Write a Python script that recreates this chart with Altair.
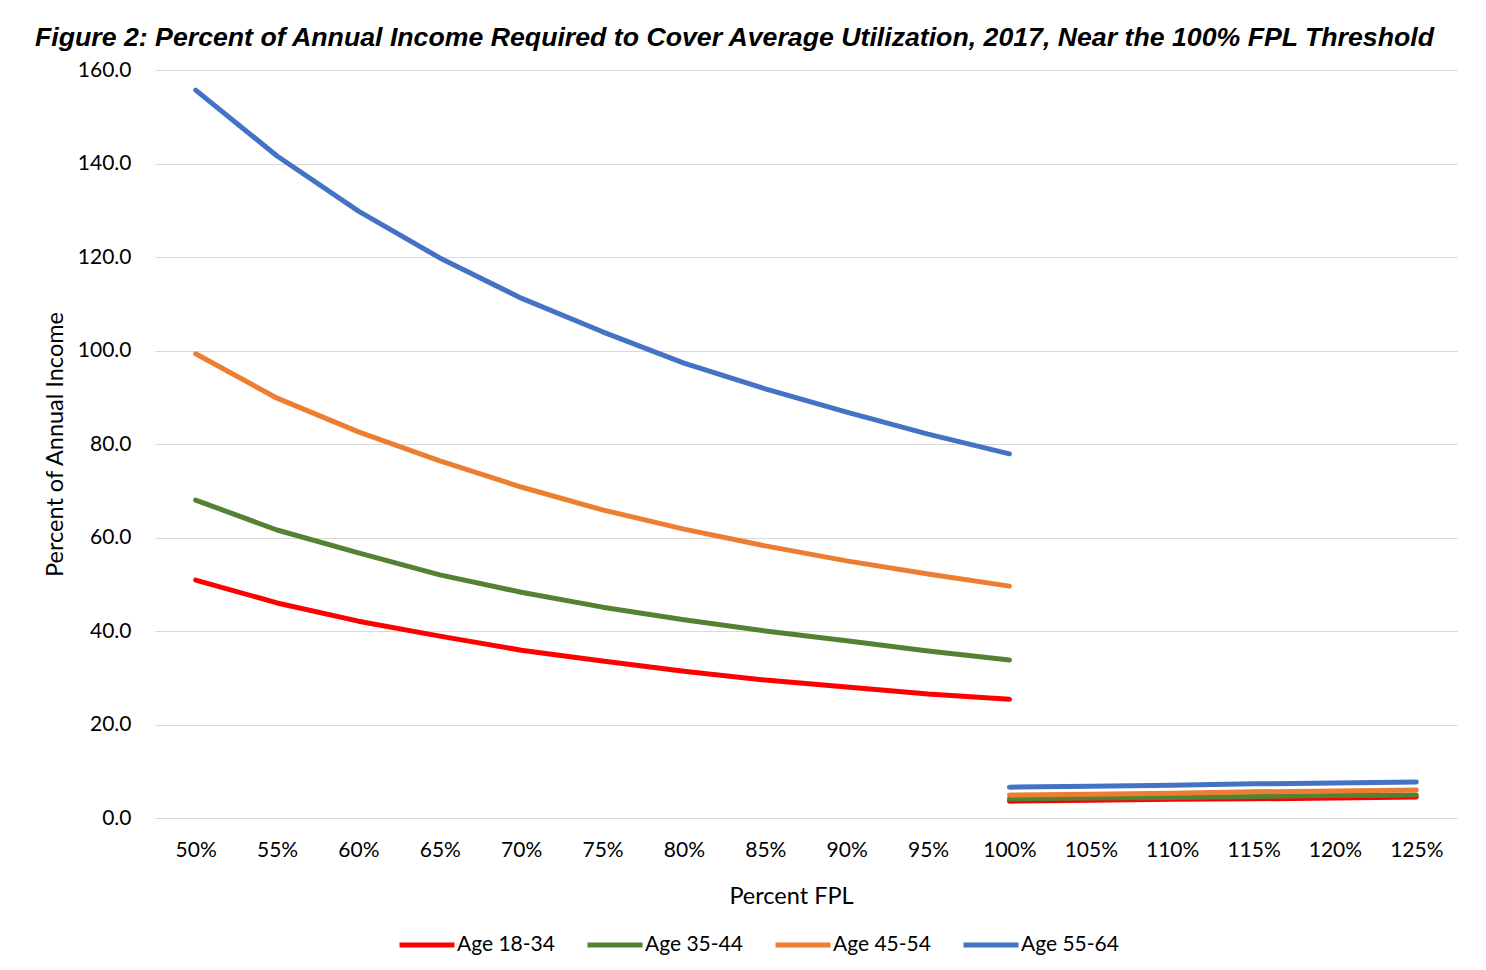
import altair as alt
import pandas as pd

fpl_labels = ["50%", "55%", "60%", "65%", "70%", "75%", "80%", "85%",
              "90%", "95%", "100%", "105%", "110%", "115%", "120%", "125%"]
series_names = ["Age 18-34", "Age 35-44", "Age 45-54", "Age 55-64"]
series_colors = ["#FF0000", "#548235", "#ED7D31", "#4472C4"]

# Segment below the threshold: 50% .. 100%
below_labels = fpl_labels[:11]
below_18_34 = [50.9, 46.0, 42.1, 38.9, 35.9, 33.6, 31.4, 29.5, 28.0, 26.5, 25.4]
below_35_44 = [68.0, 61.6, 56.7, 52.0, 48.3, 45.1, 42.4, 40.0, 37.9, 35.7, 33.8]
below_45_54 = [99.3, 89.8, 82.6, 76.4, 70.8, 65.9, 61.8, 58.2, 55.0, 52.2, 49.6]
below_55_64 = [155.7, 141.6, 129.8, 119.8, 111.2, 104.0, 97.3, 91.8, 86.8, 82.1, 77.9]

# Segment above the threshold: 100% .. 125%
above_labels = fpl_labels[10:]
above_18_34 = [3.6, 3.8, 4.0, 4.1, 4.3, 4.5]
above_35_44 = [4.1, 4.3, 4.4, 4.6, 4.8, 4.9]
above_45_54 = [4.9, 5.1, 5.3, 5.6, 5.8, 6.0]
above_55_64 = [6.6, 6.8, 7.0, 7.3, 7.5, 7.7]

rows = []
for name, below, above in zip(
    series_names,
    [below_18_34, below_35_44, below_45_54, below_55_64],
    [above_18_34, above_35_44, above_45_54, above_55_64],
):
    for lab, v in zip(below_labels, below):
        rows.append({"fpl": lab, "value": v, "series": name, "segment": name + " below"})
    for lab, v in zip(above_labels, above):
        rows.append({"fpl": lab, "value": v, "series": name, "segment": name + " above"})
df = pd.DataFrame(rows)

axis_font = "Lato"

chart = (
    alt.Chart(df)
    .mark_line(strokeWidth=5, strokeCap="round", strokeJoin="round")
    .encode(
        x=alt.X(
            "fpl:O",
            sort=fpl_labels,
            scale=alt.Scale(domain=fpl_labels, type="point", padding=0.5),
            axis=alt.Axis(
                title="Percent FPL",
                labelAngle=0,
                labelFontSize=21,
                labelPadding=21,
                titleFontSize=23.5,
                titleFontWeight="normal",
                titlePadding=24,
                titleX=636,
                ticks=False,
                domain=True,
                domainColor="#d9d9d9",
                domainWidth=1,
                grid=False,
            ),
        ),
        y=alt.Y(
            "value:Q",
            scale=alt.Scale(domain=[0, 160]),
            axis=alt.Axis(
                title="Percent of Annual Income",
                values=[0, 20, 40, 60, 80, 100, 120, 140, 160],
                format=".1f",
                labelFontSize=21,
                labelPadding=24,
                titleFontSize=23.5,
                titleFontWeight="normal",
                titlePadding=10,
                ticks=False,
                domain=False,
                gridColor="#d9d9d9",
                gridWidth=1,
            ),
        ),
        color=alt.Color(
            "series:N",
            scale=alt.Scale(domain=series_names, range=series_colors),
            legend=alt.Legend(
                title=None,
                orient="none",
                legendX=242,
                legendY=845,
                direction="horizontal",
                symbolType="stroke",
                symbolStrokeWidth=5,
                symbolSize=3025,
                labelFontSize=21,
                labelOffset=0,
                columnPadding=22,
            ),
        ),
        detail="segment:N",
    )
    .properties(
        width=1302,
        height=748,
        title=alt.TitleParams(
            "Figure 2: Percent of Annual Income Required to Cover Average Utilization, 2017, Near the 100% FPL Threshold",
            font="Liberation Sans",
            fontSize=26.7,
            fontStyle="italic",
            fontWeight="bold",
            anchor="start",
            frame="group",
            dx=-120,
            offset=7,
            color="#000000",
        ),
        autosize=alt.AutoSizeParams(type="none"),
        padding={"left": 147, "top": 62, "right": 20, "bottom": 150},
    )
    .configure(font=axis_font)
    .configure_axis(labelFont=axis_font, titleFont=axis_font, labelColor="#000000", titleColor="#000000")
    .configure_legend(labelFont=axis_font, labelColor="#000000")
    .configure_view(stroke=None)
)

chart.save("out.html", embed_options={"renderer": "svg", "actions": False})
